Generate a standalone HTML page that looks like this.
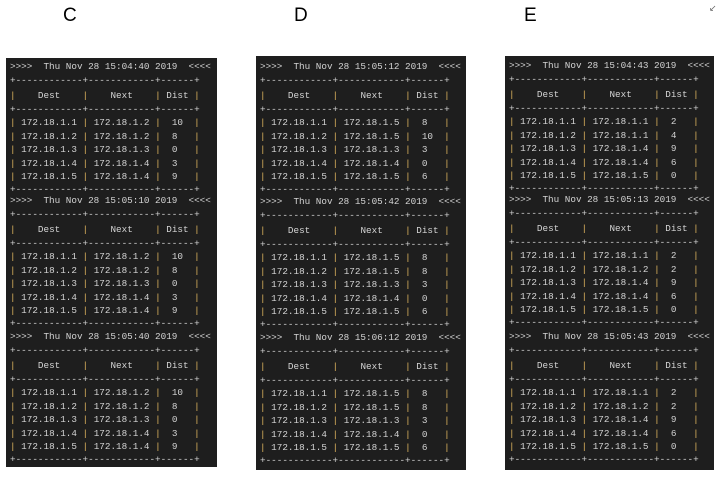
<!DOCTYPE html>
<html><head><meta charset="utf-8"><style>
body{margin:0;width:717px;height:481px;background:#fff;position:relative;overflow:hidden;font-family:"Liberation Sans",sans-serif}
.lbl{position:absolute;top:5px;font-size:19px;color:#000}
.panel{position:absolute;background:#1e1e1e;overflow:hidden}
.blk{position:absolute;left:4px;font-family:"Liberation Mono",monospace;font-size:9.3px;color:#d4d4d4;white-space:normal}
.blk div{white-space:pre}
.t{height:12px;line-height:12px}
.b1{height:16px;line-height:16px}
.h{height:14px;line-height:14px}
.b2{height:13px;line-height:13px}
.r{height:13.5px;line-height:13.5px}
.r5{height:14px;line-height:14px}
.b3{height:11px;line-height:11px}
.p{color:#e0b55e}
</style></head><body>
<div class="lbl" style="left:63px">C</div>
<div class="lbl" style="left:294px">D</div>
<div class="lbl" style="left:524px">E</div>
<div style="position:absolute;left:709px;top:3px;font-size:9px;color:#666">&#8601;</div>

<div class="panel" style="left:6px;top:58px;width:211px;height:409px">
<div class="blk" style="top:3px">
<div class="t">&gt;&gt;&gt;&gt;  Thu Nov 28 15:04:40 2019  &lt;&lt;&lt;&lt;</div>
<div class="b1">+------------+------------+------+</div>
<div class="h"><span class="p">|</span>    Dest    <span class="p">|</span>    Next    <span class="p">|</span> Dist <span class="p">|</span></div>
<div class="b2">+------------+------------+------+</div>
<div class="r"><span class="p">|</span> 172.18.1.1 <span class="p">|</span> 172.18.1.2 <span class="p">|</span>  10  <span class="p">|</span></div>
<div class="r"><span class="p">|</span> 172.18.1.2 <span class="p">|</span> 172.18.1.2 <span class="p">|</span>  8   <span class="p">|</span></div>
<div class="r"><span class="p">|</span> 172.18.1.3 <span class="p">|</span> 172.18.1.3 <span class="p">|</span>  0   <span class="p">|</span></div>
<div class="r"><span class="p">|</span> 172.18.1.4 <span class="p">|</span> 172.18.1.4 <span class="p">|</span>  3   <span class="p">|</span></div>
<div class="r5"><span class="p">|</span> 172.18.1.5 <span class="p">|</span> 172.18.1.4 <span class="p">|</span>  9   <span class="p">|</span></div>
<div class="b3">+------------+------------+------+</div>
</div>
<div class="blk" style="top:137px">
<div class="t">&gt;&gt;&gt;&gt;  Thu Nov 28 15:05:10 2019  &lt;&lt;&lt;&lt;</div>
<div class="b1">+------------+------------+------+</div>
<div class="h"><span class="p">|</span>    Dest    <span class="p">|</span>    Next    <span class="p">|</span> Dist <span class="p">|</span></div>
<div class="b2">+------------+------------+------+</div>
<div class="r"><span class="p">|</span> 172.18.1.1 <span class="p">|</span> 172.18.1.2 <span class="p">|</span>  10  <span class="p">|</span></div>
<div class="r"><span class="p">|</span> 172.18.1.2 <span class="p">|</span> 172.18.1.2 <span class="p">|</span>  8   <span class="p">|</span></div>
<div class="r"><span class="p">|</span> 172.18.1.3 <span class="p">|</span> 172.18.1.3 <span class="p">|</span>  0   <span class="p">|</span></div>
<div class="r"><span class="p">|</span> 172.18.1.4 <span class="p">|</span> 172.18.1.4 <span class="p">|</span>  3   <span class="p">|</span></div>
<div class="r5"><span class="p">|</span> 172.18.1.5 <span class="p">|</span> 172.18.1.4 <span class="p">|</span>  9   <span class="p">|</span></div>
<div class="b3">+------------+------------+------+</div>
</div>
<div class="blk" style="top:273px">
<div class="t">&gt;&gt;&gt;&gt;  Thu Nov 28 15:05:40 2019  &lt;&lt;&lt;&lt;</div>
<div class="b1">+------------+------------+------+</div>
<div class="h"><span class="p">|</span>    Dest    <span class="p">|</span>    Next    <span class="p">|</span> Dist <span class="p">|</span></div>
<div class="b2">+------------+------------+------+</div>
<div class="r"><span class="p">|</span> 172.18.1.1 <span class="p">|</span> 172.18.1.2 <span class="p">|</span>  10  <span class="p">|</span></div>
<div class="r"><span class="p">|</span> 172.18.1.2 <span class="p">|</span> 172.18.1.2 <span class="p">|</span>  8   <span class="p">|</span></div>
<div class="r"><span class="p">|</span> 172.18.1.3 <span class="p">|</span> 172.18.1.3 <span class="p">|</span>  0   <span class="p">|</span></div>
<div class="r"><span class="p">|</span> 172.18.1.4 <span class="p">|</span> 172.18.1.4 <span class="p">|</span>  3   <span class="p">|</span></div>
<div class="r5"><span class="p">|</span> 172.18.1.5 <span class="p">|</span> 172.18.1.4 <span class="p">|</span>  9   <span class="p">|</span></div>
<div class="b3">+------------+------------+------+</div>
</div>
</div>

<div class="panel" style="left:256px;top:56px;width:210px;height:414px">
<div class="blk" style="top:5px">
<div class="t">&gt;&gt;&gt;&gt;  Thu Nov 28 15:05:12 2019  &lt;&lt;&lt;&lt;</div>
<div class="b1">+------------+------------+------+</div>
<div class="h"><span class="p">|</span>    Dest    <span class="p">|</span>    Next    <span class="p">|</span> Dist <span class="p">|</span></div>
<div class="b2">+------------+------------+------+</div>
<div class="r"><span class="p">|</span> 172.18.1.1 <span class="p">|</span> 172.18.1.5 <span class="p">|</span>  8   <span class="p">|</span></div>
<div class="r"><span class="p">|</span> 172.18.1.2 <span class="p">|</span> 172.18.1.5 <span class="p">|</span>  10  <span class="p">|</span></div>
<div class="r"><span class="p">|</span> 172.18.1.3 <span class="p">|</span> 172.18.1.3 <span class="p">|</span>  3   <span class="p">|</span></div>
<div class="r"><span class="p">|</span> 172.18.1.4 <span class="p">|</span> 172.18.1.4 <span class="p">|</span>  0   <span class="p">|</span></div>
<div class="r5"><span class="p">|</span> 172.18.1.5 <span class="p">|</span> 172.18.1.5 <span class="p">|</span>  6   <span class="p">|</span></div>
<div class="b3">+------------+------------+------+</div>
</div>
<div class="blk" style="top:140px">
<div class="t">&gt;&gt;&gt;&gt;  Thu Nov 28 15:05:42 2019  &lt;&lt;&lt;&lt;</div>
<div class="b1">+------------+------------+------+</div>
<div class="h"><span class="p">|</span>    Dest    <span class="p">|</span>    Next    <span class="p">|</span> Dist <span class="p">|</span></div>
<div class="b2">+------------+------------+------+</div>
<div class="r"><span class="p">|</span> 172.18.1.1 <span class="p">|</span> 172.18.1.5 <span class="p">|</span>  8   <span class="p">|</span></div>
<div class="r"><span class="p">|</span> 172.18.1.2 <span class="p">|</span> 172.18.1.5 <span class="p">|</span>  8   <span class="p">|</span></div>
<div class="r"><span class="p">|</span> 172.18.1.3 <span class="p">|</span> 172.18.1.3 <span class="p">|</span>  3   <span class="p">|</span></div>
<div class="r"><span class="p">|</span> 172.18.1.4 <span class="p">|</span> 172.18.1.4 <span class="p">|</span>  0   <span class="p">|</span></div>
<div class="r5"><span class="p">|</span> 172.18.1.5 <span class="p">|</span> 172.18.1.5 <span class="p">|</span>  6   <span class="p">|</span></div>
<div class="b3">+------------+------------+------+</div>
</div>
<div class="blk" style="top:276px">
<div class="t">&gt;&gt;&gt;&gt;  Thu Nov 28 15:06:12 2019  &lt;&lt;&lt;&lt;</div>
<div class="b1">+------------+------------+------+</div>
<div class="h"><span class="p">|</span>    Dest    <span class="p">|</span>    Next    <span class="p">|</span> Dist <span class="p">|</span></div>
<div class="b2">+------------+------------+------+</div>
<div class="r"><span class="p">|</span> 172.18.1.1 <span class="p">|</span> 172.18.1.5 <span class="p">|</span>  8   <span class="p">|</span></div>
<div class="r"><span class="p">|</span> 172.18.1.2 <span class="p">|</span> 172.18.1.5 <span class="p">|</span>  8   <span class="p">|</span></div>
<div class="r"><span class="p">|</span> 172.18.1.3 <span class="p">|</span> 172.18.1.3 <span class="p">|</span>  3   <span class="p">|</span></div>
<div class="r"><span class="p">|</span> 172.18.1.4 <span class="p">|</span> 172.18.1.4 <span class="p">|</span>  0   <span class="p">|</span></div>
<div class="r5"><span class="p">|</span> 172.18.1.5 <span class="p">|</span> 172.18.1.5 <span class="p">|</span>  6   <span class="p">|</span></div>
<div class="b3">+------------+------------+------+</div>
</div>
</div>

<div class="panel" style="left:505px;top:56px;width:209px;height:414px">
<div class="blk" style="top:4px">
<div class="t">&gt;&gt;&gt;&gt;  Thu Nov 28 15:04:43 2019  &lt;&lt;&lt;&lt;</div>
<div class="b1">+------------+------------+------+</div>
<div class="h"><span class="p">|</span>    Dest    <span class="p">|</span>    Next    <span class="p">|</span> Dist <span class="p">|</span></div>
<div class="b2">+------------+------------+------+</div>
<div class="r"><span class="p">|</span> 172.18.1.1 <span class="p">|</span> 172.18.1.1 <span class="p">|</span>  2   <span class="p">|</span></div>
<div class="r"><span class="p">|</span> 172.18.1.2 <span class="p">|</span> 172.18.1.1 <span class="p">|</span>  4   <span class="p">|</span></div>
<div class="r"><span class="p">|</span> 172.18.1.3 <span class="p">|</span> 172.18.1.4 <span class="p">|</span>  9   <span class="p">|</span></div>
<div class="r"><span class="p">|</span> 172.18.1.4 <span class="p">|</span> 172.18.1.4 <span class="p">|</span>  6   <span class="p">|</span></div>
<div class="r5"><span class="p">|</span> 172.18.1.5 <span class="p">|</span> 172.18.1.5 <span class="p">|</span>  0   <span class="p">|</span></div>
<div class="b3">+------------+------------+------+</div>
</div>
<div class="blk" style="top:138px">
<div class="t">&gt;&gt;&gt;&gt;  Thu Nov 28 15:05:13 2019  &lt;&lt;&lt;&lt;</div>
<div class="b1">+------------+------------+------+</div>
<div class="h"><span class="p">|</span>    Dest    <span class="p">|</span>    Next    <span class="p">|</span> Dist <span class="p">|</span></div>
<div class="b2">+------------+------------+------+</div>
<div class="r"><span class="p">|</span> 172.18.1.1 <span class="p">|</span> 172.18.1.1 <span class="p">|</span>  2   <span class="p">|</span></div>
<div class="r"><span class="p">|</span> 172.18.1.2 <span class="p">|</span> 172.18.1.2 <span class="p">|</span>  2   <span class="p">|</span></div>
<div class="r"><span class="p">|</span> 172.18.1.3 <span class="p">|</span> 172.18.1.4 <span class="p">|</span>  9   <span class="p">|</span></div>
<div class="r"><span class="p">|</span> 172.18.1.4 <span class="p">|</span> 172.18.1.4 <span class="p">|</span>  6   <span class="p">|</span></div>
<div class="r5"><span class="p">|</span> 172.18.1.5 <span class="p">|</span> 172.18.1.5 <span class="p">|</span>  0   <span class="p">|</span></div>
<div class="b3">+------------+------------+------+</div>
</div>
<div class="blk" style="top:275px">
<div class="t">&gt;&gt;&gt;&gt;  Thu Nov 28 15:05:43 2019  &lt;&lt;&lt;&lt;</div>
<div class="b1">+------------+------------+------+</div>
<div class="h"><span class="p">|</span>    Dest    <span class="p">|</span>    Next    <span class="p">|</span> Dist <span class="p">|</span></div>
<div class="b2">+------------+------------+------+</div>
<div class="r"><span class="p">|</span> 172.18.1.1 <span class="p">|</span> 172.18.1.1 <span class="p">|</span>  2   <span class="p">|</span></div>
<div class="r"><span class="p">|</span> 172.18.1.2 <span class="p">|</span> 172.18.1.2 <span class="p">|</span>  2   <span class="p">|</span></div>
<div class="r"><span class="p">|</span> 172.18.1.3 <span class="p">|</span> 172.18.1.4 <span class="p">|</span>  9   <span class="p">|</span></div>
<div class="r"><span class="p">|</span> 172.18.1.4 <span class="p">|</span> 172.18.1.4 <span class="p">|</span>  6   <span class="p">|</span></div>
<div class="r5"><span class="p">|</span> 172.18.1.5 <span class="p">|</span> 172.18.1.5 <span class="p">|</span>  0   <span class="p">|</span></div>
<div class="b3">+------------+------------+------+</div>
</div>
</div>
</body></html>
